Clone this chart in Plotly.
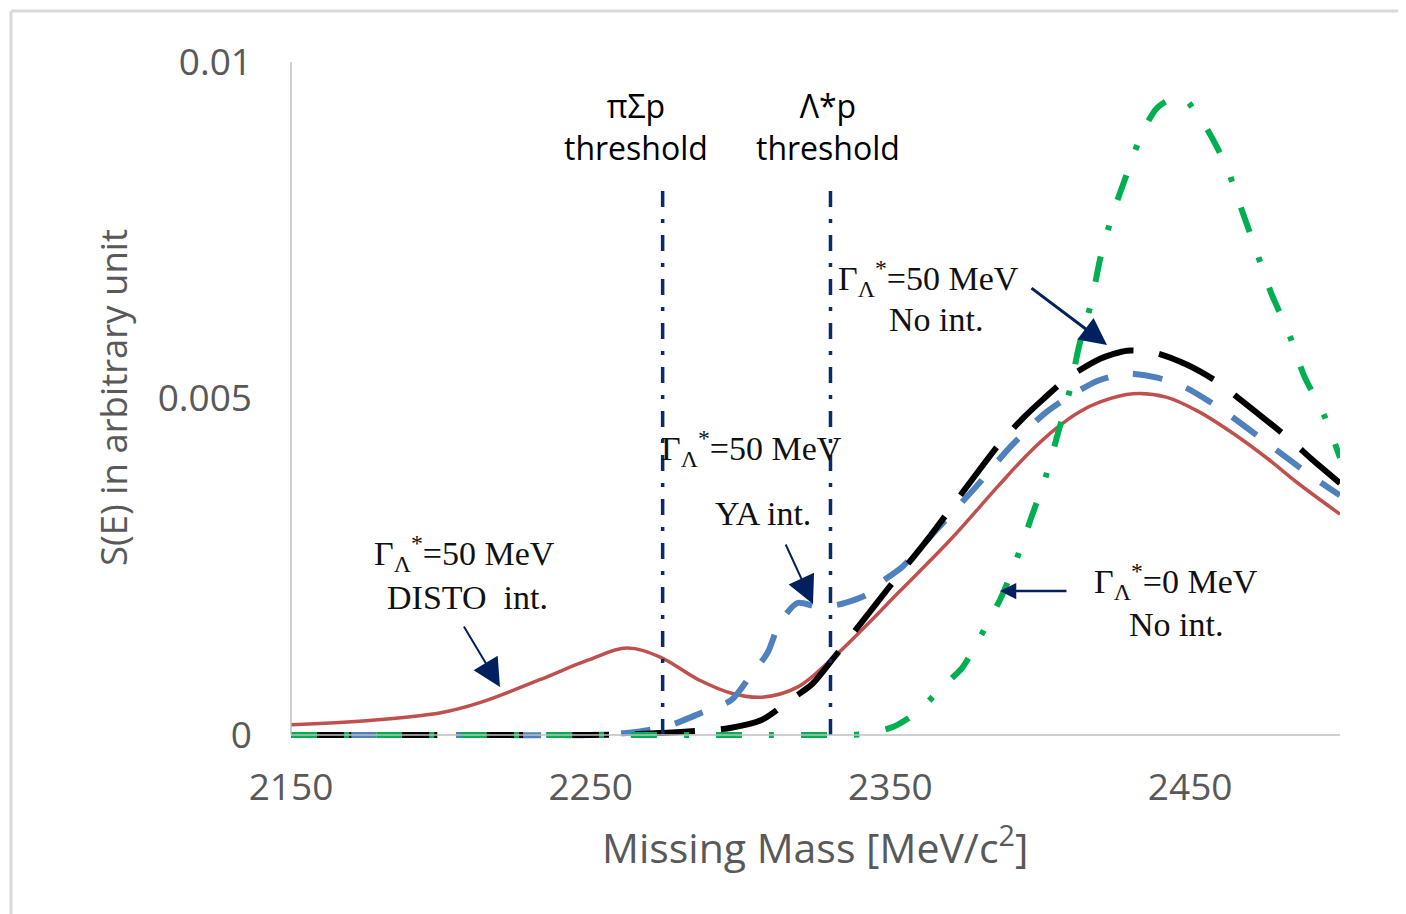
import plotly.graph_objects as go

# ---------------- data ----------------
RED_E = [2150, 2175, 2200, 2213, 2233, 2249, 2262, 2273, 2286, 2297, 2307, 2319, 2330, 2342, 2353,
         2370, 2386, 2396, 2406, 2413, 2420, 2431, 2442, 2453, 2465, 2476, 2486, 2500]
RED_S = [0.00015, 0.00021, 0.00033, 0.00048, 0.00082, 0.00111, 0.00129, 0.00116, 0.00082, 0.00062,
         0.00056, 0.00071, 0.00111, 0.00163, 0.00213, 0.00290, 0.00370, 0.00418, 0.00458, 0.00480,
         0.00495, 0.00507, 0.00502, 0.00480, 0.00446, 0.00410, 0.00374, 0.00328]

BLUE_E = [2150, 2200, 2250, 2262, 2269, 2277, 2287, 2297, 2303, 2309, 2313, 2319, 2326, 2333, 2342,
          2346, 2354, 2365, 2378, 2390, 2401, 2409, 2419, 2429, 2439, 2449, 2461, 2478, 2490, 2500]
BLUE_S = [0, 0, 0, 0.00003, 0.00007, 0.00015, 0.00033, 0.00052, 0.00086, 0.00122, 0.00166, 0.00196,
          0.00190, 0.00194, 0.00208, 0.00224, 0.00250, 0.00303, 0.00366, 0.00428, 0.00476, 0.00501,
          0.00526, 0.00537, 0.00531, 0.00515, 0.00482, 0.00426, 0.00386, 0.00356]

BLACK_E = [2150, 2200, 2250, 2265, 2274, 2286, 2296, 2307, 2316, 2324, 2331, 2343, 2350, 2363, 2375,
           2387, 2395, 2401, 2409, 2420, 2429, 2439, 2449, 2459, 2466, 2483, 2491, 2500]
BLACK_S = [0, 0, 0, 0.00001, 0.00003, 0.00006, 0.00010, 0.00022, 0.00050, 0.00076, 0.00114, 0.00182,
           0.00222, 0.00294, 0.00366, 0.00436, 0.00474, 0.00499, 0.00530, 0.00559, 0.00571, 0.00567,
           0.00550, 0.00525, 0.00501, 0.00440, 0.00408, 0.00374]

GREEN_E = [2150, 2200, 2250, 2300, 2335, 2341, 2351, 2359, 2367, 2374, 2379, 2387, 2392, 2397, 2402,
           2406, 2410, 2413, 2417, 2420, 2424, 2429, 2434, 2439, 2445, 2448, 2455, 2462, 2467, 2472,
           2477, 2483, 2488, 2495, 2500]
GREEN_S = [0, 0, 0, 0, 0, 0.00001, 0.00012, 0.00034, 0.00070, 0.00100, 0.00138, 0.00205, 0.00260,
           0.00323, 0.00386, 0.00450, 0.00515, 0.00579, 0.00642, 0.00708, 0.00772, 0.00835, 0.00895,
           0.00932, 0.00948, 0.00946, 0.00905, 0.00846, 0.00783, 0.00720, 0.00657, 0.00596, 0.00534,
           0.00472, 0.00412]

THRESH_E = [2274, 2330]
THRESH_LABELS = ["πΣp<br>threshold", "Λ*p<br>threshold"]

X_TICKS = [2150, 2250, 2350, 2450]
Y_TICKS = [0, 0.005, 0.01]
Y_TICKTEXT = ["0", "0.005", "0.01"]

X_RANGE = [2150, 2500]
Y_RANGE = [-0.00015, 0.01]

# ---------------- layout helpers (page pixel -> paper) ----------------
OFF = 8                       # default page margin of the html body
W, H = 1406 - OFF, 914 - OFF
PLOT_L, PLOT_R, PLOT_T, PLOT_B = 291, 1340, 62, 745   # page pixels
L = PLOT_L - OFF
T = PLOT_T - OFF
R = W + OFF - PLOT_R
B = H + OFF - PLOT_B
PW = PLOT_R - PLOT_L
PH = PLOT_B - PLOT_T


def px(xp):
    return (xp - PLOT_L) / PW


def py(yp):
    return (PLOT_B - yp) / PH


fig = go.Figure()

fig.add_trace(go.Scatter(x=RED_E, y=RED_S, mode="lines", name="DISTO int.",
                         line=dict(color="#C0504D", width=3.5, shape="spline", smoothing=1.0)))
fig.add_trace(go.Scatter(x=BLUE_E, y=BLUE_S, mode="lines", name="YA int.",
                         line=dict(color="#4F81BD", width=6, shape="spline", smoothing=0.7,
                                   dash="30px,25px")))
fig.add_trace(go.Scatter(x=BLACK_E, y=BLACK_S, mode="lines", name="No int. 50",
                         line=dict(color="#000000", width=6, shape="spline", smoothing=0.7,
                                   dash="60px,26px")))
fig.add_trace(go.Scatter(x=GREEN_E, y=GREEN_S, mode="lines", name="No int. 0",
                         line=dict(color="#00B050", width=6, shape="spline", smoothing=0.7,
                                   dash="26px,27px,5px,27px")))

shapes = []
# threshold lines
for e in THRESH_E:
    shapes.append(dict(type="line", xref="x", yref="paper", x0=e, x1=e, y0=py(735), y1=py(183),
                       line=dict(color="#0B2A6B", width=3.5, dash="16px,12px,4px,12px")))
# axis lines
shapes.append(dict(type="line", xref="paper", yref="paper", x0=0, x1=1, y0=py(735), y1=py(735),
                   line=dict(color="#BFBFBF", width=1.5)))
shapes.append(dict(type="line", xref="paper", yref="paper", x0=0, x1=0, y0=py(735), y1=py(62),
                   line=dict(color="#BFBFBF", width=1.5)))
# outer frame
shapes.append(dict(type="line", xref="paper", yref="paper", x0=px(11), x1=px(1412), y0=py(11), y1=py(11),
                   line=dict(color="#D9D9D9", width=3)))
shapes.append(dict(type="line", xref="paper", yref="paper", x0=px(11), x1=px(11), y0=py(11), y1=py(920),
                   line=dict(color="#D9D9D9", width=3)))

ann = []
sans = "Open Sans, Calibri, sans-serif"
serif = "Liberation Serif, Times New Roman, serif"
gray = "#595959"
# threshold labels
for xc, lab in zip([636, 828], THRESH_LABELS):
    ann.append(dict(xref="paper", yref="paper", x=px(xc), y=py(126), text=lab, showarrow=False,
                    xanchor="center", yanchor="middle", font=dict(family=sans, size=32, color="#000000")))

G50 = "Γ<sub>Λ</sub><sup>*</sup>=50 MeV"
G0 = "Γ<sub>Λ</sub><sup>*</sup>=0 MeV"
tcol = "#111111"
SF = 34
serif_texts = [
    (464, 553, G50), (467, 597, "DISTO  int."),
    (751, 448, G50), (763, 513, "YA int."),
    (928, 278, G50), (936, 320, "No int."),
    (1176, 581, G0), (1176, 624, "No int."),
]
for xc, yc, txt in serif_texts:
    ann.append(dict(xref="paper", yref="paper", x=px(xc), y=py(yc), text=txt,
                    showarrow=False, xanchor="center", yanchor="middle",
                    font=dict(family=serif, size=SF, color=tcol)))

# arrows (head position, tail position in page px)
arrows = [((500, 687), (463, 625), 2, 2.8),
          ((813, 604), (785, 543), 2, 2.8),
          ((1107, 345), (1030, 287), 3, 1.8),
          ((1000, 591), (1068, 591), 2.5, 1.3)]
for (hx, hy), (tx, ty), w, s in arrows:
    ann.append(dict(xref="paper", yref="paper", x=px(hx), y=py(hy), ax=tx - hx, ay=ty - hy,
                    axref="pixel", ayref="pixel", text="", showarrow=True, arrowhead=2,
                    arrowsize=s, arrowwidth=w, arrowcolor="#002060", standoff=0))

# axis titles
ann.append(dict(xref="paper", yref="paper", x=px(815), y=py(845), text="Missing Mass [MeV/c<sup>2</sup>]",
                showarrow=False, xanchor="center", yanchor="middle",
                font=dict(family=sans, size=41, color=gray)))
ann.append(dict(xref="paper", yref="paper", x=px(113), y=py(398), text="S(E) in arbitrary unit",
                showarrow=False, xanchor="center", yanchor="middle", textangle=-90,
                font=dict(family=sans, size=36.5, color=gray)))

fig.update_layout(
    width=W, height=H,
    margin=dict(l=L, r=R, t=T, b=B, pad=0),
    paper_bgcolor="white", plot_bgcolor="white",
    showlegend=False,
    shapes=shapes, annotations=ann,
    xaxis=dict(range=X_RANGE, tickvals=X_TICKS, ticks="", showgrid=False, zeroline=False,
               showline=False, tickfont=dict(family=sans, size=37, color=gray),
               ticklabelstandoff=17),
    yaxis=dict(range=Y_RANGE, tickvals=Y_TICKS, ticktext=Y_TICKTEXT, ticks="", showgrid=False,
               zeroline=False, showline=False, tickfont=dict(family=sans, size=37, color=gray),
               ticklabelstandoff=38),
)

fig.write_html("out.html")
